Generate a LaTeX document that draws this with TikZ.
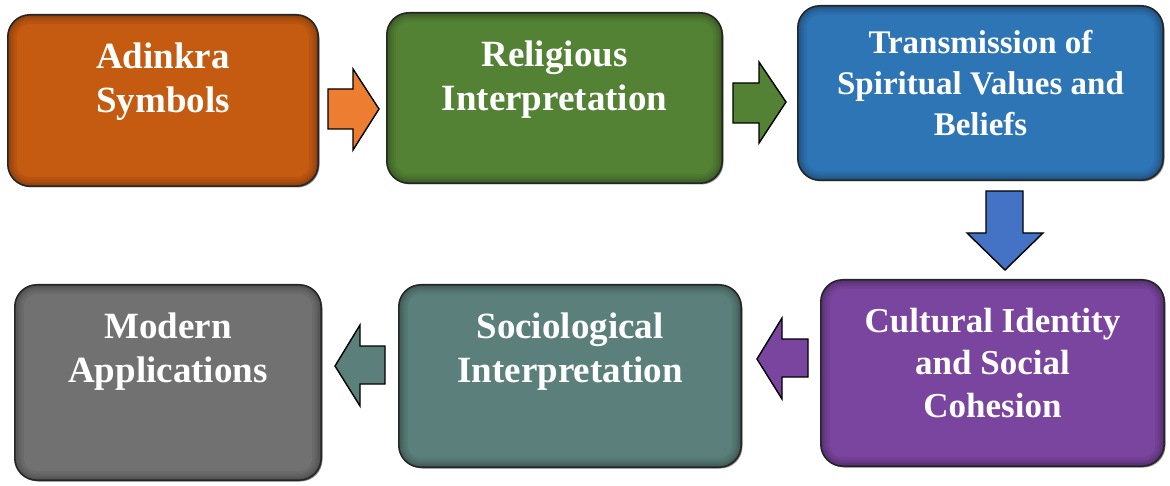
\documentclass[tikz,border=0pt]{standalone}
\usepackage{fontspec}
\setmainfont{Liberation Serif}
\usetikzlibrary{shadows}
\definecolor{cOrange}{HTML}{C55A11}
\definecolor{cGreen}{HTML}{548235}
\definecolor{cBlue}{HTML}{2E75B6}
\definecolor{cPurple}{HTML}{7A459E}
\definecolor{cTeal}{HTML}{5B7F7A}
\definecolor{cGray}{HTML}{717171}
\definecolor{aOrange}{HTML}{ED7D31}
\definecolor{aBlue}{HTML}{4472C4}
\newcommand\boxfinish[1]{%
  \begin{scope}
    \clip[rounded corners=22pt] (#1.south west) rectangle (#1.north east);
    \foreach \lw in {18,13,9,6,3}{
      \draw[line width=\lw pt, black, opacity=0.06, rounded corners=22pt] (#1.south west) rectangle (#1.north east);
    }
  \end{scope}
  \draw[line width=1.6pt, black!85, rounded corners=22pt] (#1.south west) rectangle (#1.north east);
}
\tikzset{
  flowbox/.style={rectangle, rounded corners=22pt, inner sep=0pt, draw=none,
    drop shadow={shadow xshift=1.5pt, shadow yshift=-1.5pt, opacity=0.45, fill=black}},
  boxtext/.style={anchor=north, inner sep=0pt, align=center, text=white,
    font=\bfseries\fontsize{37}{44}\selectfont},
  blockarrow/.style={draw=black, line width=1.4pt, line join=miter}
}
\begin{document}
\begin{tikzpicture}[x=1pt, y=-1pt]
\useasboundingbox[fill=white] (0,0) rectangle (1170,486);

% boxes
\node[flowbox, fill=cOrange, minimum width=310pt, minimum height=171pt] (b1) at (163,100.5) {};
\boxfinish{b1}
\node[flowbox, fill=cGreen, minimum width=335pt, minimum height=170pt] (b2) at (554.5,98) {};
\boxfinish{b2}
\node[flowbox, fill=cBlue, minimum width=365pt, minimum height=174pt] (b3) at (980.5,93) {};
\boxfinish{b3}
\node[flowbox, fill=cPurple, minimum width=343pt, minimum height=186pt] (b4) at (992.5,373) {};
\boxfinish{b4}
\node[flowbox, fill=cTeal, minimum width=342pt, minimum height=182pt] (b5) at (570,376) {};
\boxfinish{b5}
\node[flowbox, fill=cGray, minimum width=306pt, minimum height=195pt] (b6) at (168,382.5) {};
\boxfinish{b6}

% texts
\node[boxtext] (t1) at ([yshift=-28pt]b1.north) {Adinkra\\Symbols};
\node[boxtext] (t2) at ([yshift=-28pt]b2.north) {Religious\\Interpretation};
\node[boxtext, font=\bfseries\fontsize{33}{41}\selectfont] (t3) at ([yshift=-24pt]b3.north) {Transmission of\\Spiritual Values and\\Beliefs};
\node[boxtext, font=\bfseries\fontsize{35}{42.5}\selectfont] (t4) at ([yshift=-28pt]b4.north) {Cultural Identity\\and Social\\Cohesion};
\node[boxtext] (t5) at ([yshift=-28pt]b5.north) {Sociological\\Interpretation};
\node[boxtext] (t6) at ([yshift=-28pt]b6.north) {Modern\\Applications};

% block arrows
\draw[blockarrow, fill=aOrange] (328,89) -- (353,89) -- (353,69) -- (379,109) -- (353,150) -- (353,129) -- (328,129) -- cycle;
\draw[blockarrow, fill=cGreen] (733,83) -- (759,83) -- (759,62) -- (786,102) -- (759,143) -- (759,123) -- (733,123) -- cycle;
\draw[blockarrow, fill=aBlue] (986,191) -- (1023,191) -- (1023,233) -- (1043,233) -- (1005,270) -- (967,233) -- (986,233) -- cycle;
\draw[blockarrow, fill=cPurple] (808,339) -- (782,339) -- (782,318) -- (757,359) -- (782,399) -- (782,377) -- (808,377) -- cycle;
\draw[blockarrow, fill=cTeal] (385,346) -- (360,346) -- (360,325) -- (335,366) -- (360,406) -- (360,384) -- (385,384) -- cycle;
\end{tikzpicture}
\end{document}
